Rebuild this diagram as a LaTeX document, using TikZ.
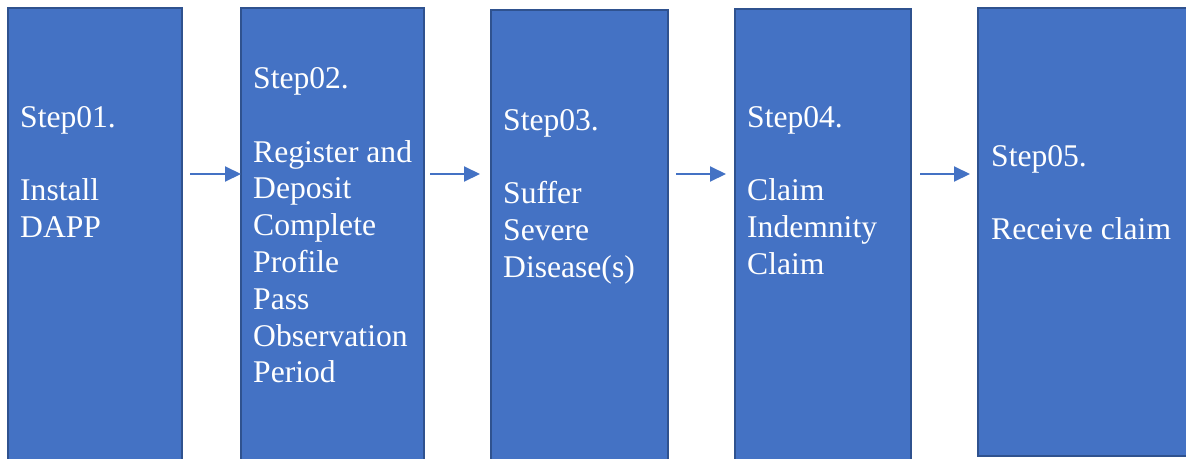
\documentclass[tikz,border=0pt]{standalone}
\usepackage{fontspec}
\setmainfont{Liberation Serif}
\usetikzlibrary{arrows.meta}
\definecolor{boxfill}{HTML}{4472C4}
\definecolor{boxline}{HTML}{2F528F}
\tikzset{
  stepbox/.style={rectangle, fill=boxfill, draw=boxline, line width=2pt, anchor=north west, inner sep=0pt, outer sep=0pt},
  steptext/.style={text=white, anchor=base west, align=left, inner sep=0pt, font=\fontsize{31.6}{36.8}\selectfont},
  arr/.style={draw=boxfill, line width=2pt, -{Triangle[length=16pt,width=15pt]}}
}
\begin{document}
\begin{tikzpicture}[x=1pt,y=-1pt]
\useasboundingbox (0,0) rectangle (1186,458);
\clip (0,0) rectangle (1186,458);
\fill[white] (0,0) rectangle (1186,458);
\node[stepbox, minimum width=174.5pt, minimum height=470pt] (b1) at (7.5,8) {};
\node[stepbox, minimum width=183pt, minimum height=470pt] (b2) at (241,8) {};
\node[stepbox, minimum width=177pt, minimum height=470pt] (b3) at (491,10) {};
\node[stepbox, minimum width=176pt, minimum height=470pt] (b4) at (735,9) {};
\node[stepbox, minimum width=222pt, minimum height=448pt] (b5) at (978,8) {};
\coordinate (ay) at (0,174);
\draw[arr] ([xshift=8pt]b1.east |- ay) -- (b2.west |- ay);
\draw[arr] ([xshift=6pt]b2.east |- ay) -- ([xshift=-11pt]b3.west |- ay);
\draw[arr] ([xshift=8pt]b3.east |- ay) -- ([xshift=-9pt]b4.west |- ay);
\draw[arr] ([xshift=9pt]b4.east |- ay) -- ([xshift=-8pt]b5.west |- ay);
\node[steptext] (t1) at (20,237.4) {Step01.\\[36.8pt]Install\\DAPP};
\node[steptext] (t2) at (253,382.8) {Step02.\\[36.8pt]Register and\\Deposit\\Complete\\Profile\\Pass\\Observation\\Period};
\node[steptext] (t3) at (503,277.2) {Step03.\\[36.8pt]Suffer\\Severe\\Disease(s)};
\node[steptext] (t4) at (747,274.2) {Step04.\\[36.8pt]Claim\\Indemnity\\Claim};
\node[steptext] (t5) at (991,239.6) {Step05.\\[36.8pt]Receive claim};
\end{tikzpicture}
\end{document}
